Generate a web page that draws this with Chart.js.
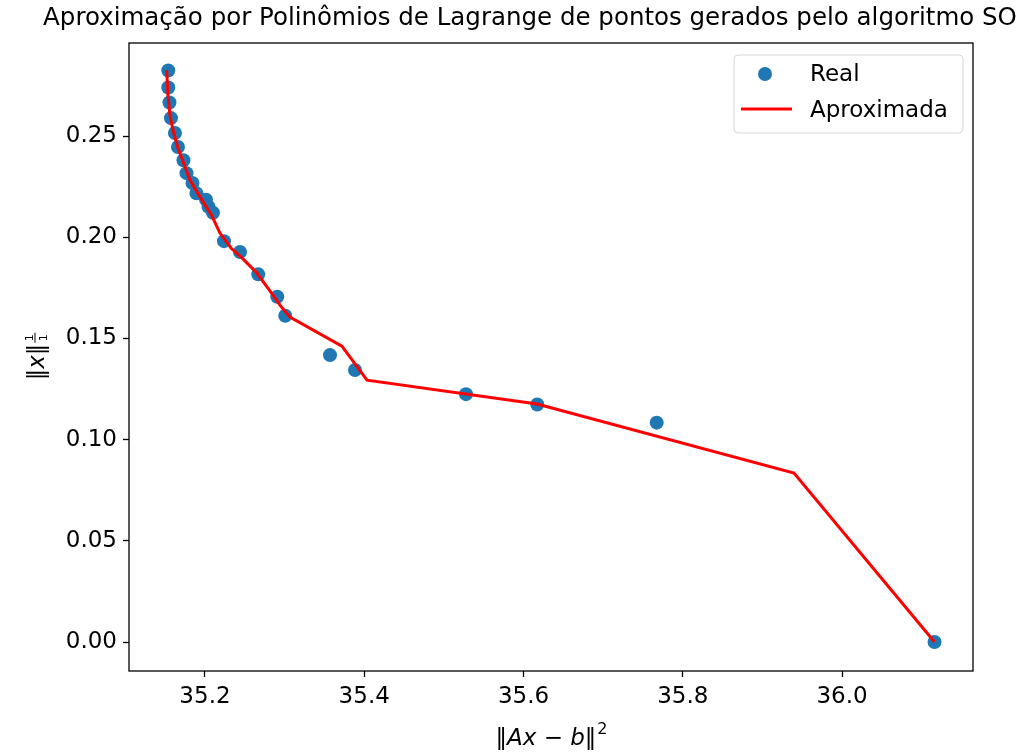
<!DOCTYPE html>
<html>
<head>
<meta charset="utf-8">
<script src="https://cdn.jsdelivr.net/npm/chart.js@4.4.1/dist/chart.umd.min.js"></script>
<style>
  html, body { margin: 0; padding: 0; background: #ffffff; }
</style>
</head>
<body>
<canvas id="grafico" width="1028" height="755"></canvas>
<script>
// pontos gerados pelo algoritmo SO
var realX = [35.1539, 35.1539, 35.1554, 35.1573, 35.1623, 35.1661, 35.1730, 35.1768,
             35.1843, 35.1893, 35.2013, 35.2044, 35.2100, 35.2239, 35.2440, 35.2669,
             35.2908, 35.3008, 35.3570, 35.3884, 35.5278, 35.6173, 35.7673, 36.1162];
var realY = [0.2824, 0.2740, 0.2666, 0.2589, 0.2515, 0.2446, 0.2381, 0.2317,
             0.2268, 0.2217, 0.2186, 0.2151, 0.2121, 0.1981, 0.1927, 0.1817,
             0.1706, 0.1612, 0.1418, 0.1344, 0.1225, 0.1174, 0.1084, 0.0000];

// curva aproximada (Lagrange)
var aproxX = [35.1519, 35.1535, 35.1560, 35.1598, 35.1661, 35.1736, 35.1812, 35.1900,
              35.1987, 35.2088, 35.2188, 35.2327, 35.2477, 35.2641, 35.2791, 35.2942,
              35.3067, 35.3720, 35.4035, 35.6170, 35.9397, 36.1162];
var aproxY = [0.2826, 0.2703, 0.2604, 0.2530, 0.2441, 0.2362, 0.2283, 0.2223,
              0.2169, 0.2105, 0.2021, 0.1947, 0.1893, 0.1828, 0.1749, 0.1665,
              0.1606, 0.1462, 0.1294, 0.1176, 0.0835, 0.0000];

var ticksX = [35.2, 35.4, 35.6, 35.8, 36.0];
var ticksY = [0.00, 0.05, 0.10, 0.15, 0.20, 0.25];

var tituloTexto = "Aproximação por Polinômios de Lagrange de pontos gerados pelo algoritmo SO";
var FONTE = '"DejaVu Sans", sans-serif';

function pares(xs, ys) {
  var out = [];
  for (var i = 0; i < xs.length; i++) out.push({ x: xs[i], y: ys[i] });
  return out;
}

// moldura, titulo, rotulos dos eixos e legenda
var extras = {
  id: 'extras',
  afterDraw: function (chart) {
    var ctx = chart.ctx;
    var a = chart.chartArea;
    ctx.save();

    // moldura
    ctx.strokeStyle = '#000';
    ctx.lineWidth = 1.3;
    ctx.strokeRect(a.left, a.top, a.right - a.left, a.bottom - a.top);

    // titulo
    ctx.fillStyle = '#000';
    ctx.font = '24.5px ' + FONTE;
    ctx.textAlign = 'center';
    ctx.textBaseline = 'middle';
    ctx.fillText(tituloTexto, 530, 19);

    // rotulo x: ||Ax - b||^2
    var partes = [['‖', ''], ['A', 'oblique '], ['x', 'oblique '], [' − ', ''], ['b', 'oblique '], ['‖', '']];
    var tam = 23, larg = 0, i;
    for (i = 0; i < partes.length; i++) {
      ctx.font = partes[i][1] + tam + 'px ' + FONTE;
      larg += ctx.measureText(partes[i][0]).width;
    }
    ctx.font = '16px ' + FONTE;
    var largSup = ctx.measureText('2').width;
    var cx = (a.left + a.right) / 2;
    var px = cx - (larg + largSup) / 2;
    var base = 745;
    ctx.textAlign = 'left';
    ctx.textBaseline = 'alphabetic';
    for (i = 0; i < partes.length; i++) {
      ctx.font = partes[i][1] + tam + 'px ' + FONTE;
      ctx.fillText(partes[i][0], px, base);
      px += ctx.measureText(partes[i][0]).width;
    }
    ctx.font = '16px ' + FONTE;
    ctx.fillText('2', px + 1, base - 11);

    // rotulo y: ||x|| com fracao 1/1
    ctx.save();
    ctx.translate(44, (a.top + a.bottom) / 2);
    ctx.rotate(-Math.PI / 2);
    ctx.font = '23px ' + FONTE;
    var w1 = ctx.measureText('‖').width;
    ctx.font = 'oblique 23px ' + FONTE;
    var w2 = ctx.measureText('x').width;
    var wf = 10;
    var total = w1 * 2 + w2 + wf;
    var sx = -total / 2;
    ctx.font = '23px ' + FONTE;
    ctx.fillText('‖', sx, 0);
    ctx.font = 'oblique 23px ' + FONTE;
    ctx.fillText('x', sx + w1, 0);
    ctx.font = '23px ' + FONTE;
    ctx.fillText('‖', sx + w1 + w2, 0);
    var fx = sx + w1 * 2 + w2 + 1;
    ctx.font = '11px ' + FONTE;
    ctx.textAlign = 'center';
    ctx.fillText('1', fx + wf / 2, -11);
    ctx.fillText('1', fx + wf / 2, 3);
    ctx.fillRect(fx, -9.5, wf, 1);
    ctx.restore();

    // legenda
    var lx = a.right - 239, ly = a.top + 12, lw = 229, lh = 78;
    ctx.beginPath();
    ctx.roundRect(lx, ly, lw, lh, 4);
    ctx.fillStyle = 'rgba(255,255,255,0.8)';
    ctx.fill();
    ctx.strokeStyle = '#d6d6d6';
    ctx.lineWidth = 1;
    ctx.stroke();

    var ds = chart.data.datasets;
    ctx.font = '23px ' + FONTE;
    ctx.textAlign = 'left';
    ctx.textBaseline = 'middle';
    ctx.fillStyle = '#000';
    // Real
    ctx.fillText(ds[1].label, lx + 76, ly + 20);
    ctx.beginPath();
    ctx.arc(lx + 31, ly + 19, 7, 0, Math.PI * 2);
    ctx.fillStyle = ds[1].backgroundColor;
    ctx.fill();
    // Aproximada
    ctx.fillStyle = '#000';
    ctx.fillText(ds[0].label, lx + 76, ly + 56);
    ctx.beginPath();
    ctx.moveTo(lx + 7, ly + 54);
    ctx.lineTo(lx + 58, ly + 54);
    ctx.strokeStyle = ds[0].borderColor;
    ctx.lineWidth = 3;
    ctx.stroke();

    ctx.restore();
  }
};

var ctx = document.getElementById('grafico').getContext('2d');
var grafico = new Chart(ctx, {
  type: 'scatter',
  data: {
    datasets: [{
      type: 'line',
      label: 'Aproximada',
      data: pares(aproxX, aproxY),
      borderColor: '#ff0000',
      borderWidth: 3,
      pointRadius: 0,
      fill: false,
      tension: 0,
      order: 0
    }, {
      label: 'Real',
      data: pares(realX, realY),
      backgroundColor: '#1f77b4',
      borderWidth: 0,
      pointRadius: 7,
      order: 1
    }]
  },
  options: {
    responsive: false,
    animation: false,
    layout: { padding: { top: 43, right: 55, left: 0, bottom: 0 } },
    plugins: {
      legend: { display: false },
      title: { display: false },
      tooltip: { enabled: false }
    },
    scales: {
      x: {
        type: 'linear',
        min: 35.1046,
        max: 36.1645,
        afterBuildTicks: function (s) { s.ticks = ticksX.map(function (v) { return { value: v }; }); },
        afterFit: function (s) { s.height = 84; },
        grid: { display: true, drawOnChartArea: false, drawTicks: true, tickLength: 6, tickWidth: 1.3, tickColor: '#000' },
        border: { display: false },
        ticks: {
          color: '#000',
          padding: 6,
          font: { family: 'DejaVu Sans', size: 23 },
          maxRotation: 0,
          callback: function (v) { return v.toFixed(1); }
        }
      },
      y: {
        type: 'linear',
        min: -0.0143,
        max: 0.296,
        afterBuildTicks: function (s) { s.ticks = ticksY.map(function (v) { return { value: v }; }); },
        afterFit: function (s) { s.width = 129; },
        grid: { display: true, drawOnChartArea: false, drawTicks: true, tickLength: 6, tickWidth: 1.3, tickColor: '#000' },
        border: { display: false },
        ticks: {
          color: '#000',
          padding: 6,
          font: { family: 'DejaVu Sans', size: 23 },
          callback: function (v) { return v.toFixed(2); }
        }
      }
    }
  },
  plugins: [extras]
});
</script>
</body>
</html>
